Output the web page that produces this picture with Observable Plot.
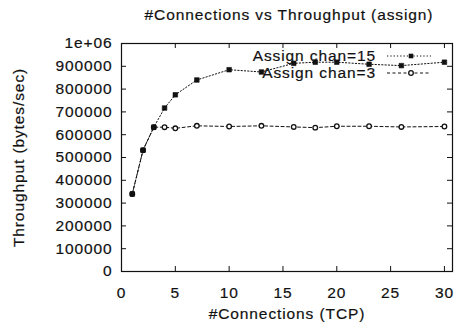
<!DOCTYPE html>
<html><head><meta charset="utf-8">
<script src="https://cdn.jsdelivr.net/npm/d3@7"></script>
<script src="https://cdn.jsdelivr.net/npm/@observablehq/plot@0.6"></script>
<style>
html,body{margin:0;padding:0;background:#fff;overflow:hidden;}
#wrap{position:relative;width:456px;height:330px;font-family:"Liberation Sans",Arial,Helvetica,sans-serif;color:#111;}
#title{position:absolute;left:289px;top:6px;transform:translateX(-50%);white-space:nowrap;font-size:15.5px;letter-spacing:0.9px;-webkit-text-stroke:0.2px #111;}
#chart{position:absolute;left:0;top:0;}
#legend{position:absolute;left:0;top:0;}
svg text{letter-spacing:0.9px;stroke:#111;stroke-width:0.2px;}
</style></head>
<body>
<div id="wrap"><div id="chart"></div><div id="title"></div><svg id="legend" width="456" height="330"></svg></div>
<script>
const titleText = "#Connections vs Throughput (assign)";
const xLabel = "#Connections (TCP)";
const yLabel = "Throughput (bytes/sec)";
const seriesNames = ["Assign chan=15", "Assign chan=3"];
const connections = [1, 2, 3, 4, 5, 7, 10, 13, 16, 18, 20, 23, 26, 30];
const chan15 = [340000, 532000, 633000, 717000, 775000, 840000, 885000, 875000, 913000, 918000, 918000, 909000, 903000, 918000];
const chan3 = [340000, 532000, 633000, 633000, 628000, 639000, 636000, 639000, 634000, 631000, 637000, 637000, 634000, 636000];
const xTicks = [0, 5, 10, 15, 20, 25, 30];
const yTicks = [0, 100000, 200000, 300000, 400000, 500000, 600000, 700000, 800000, 900000, 1000000];

const W = 456, H = 330, mL = 121, mR = 4, mT = 43, mB = 59, TL = 5;
const fw = W - mL - mR, fh = H - mT - mB;
const d15 = connections.map((x, i) => ({x, y: chan15[i]}));
const d3s = connections.map((x, i) => ({x, y: chan3[i]}));
const fmt = d => d === 1000000 ? "1e+06" : String(d);
const dash15 = "1.3,2", dash3 = "3,2.5";
const FS = "15.5px";

const plot = Plot.plot({
  width: W, height: H,
  marginLeft: mL, marginRight: mR, marginTop: mT, marginBottom: mB,
  style: {fontSize: FS, fontFamily: "'Liberation Sans', Arial, sans-serif", color: "#111", background: "#fff"},
  x: {domain: [0, 30.75], ticks: xTicks, tickFormat: d => String(d)},
  y: {domain: [0, 1000000], ticks: yTicks, tickFormat: fmt},
  marks: [
    Plot.axisX(xTicks, {anchor: "bottom", tickSize: 0, tickPadding: 15, label: null, tickFormat: d => String(d)}),
    Plot.axisY(yTicks, {anchor: "left", tickSize: 0, tickPadding: 9, label: null, tickFormat: fmt}),
    Plot.tickX(xTicks, {x: d => d, insetTop: fh - TL, stroke: "#111"}),
    Plot.tickX(xTicks, {x: d => d, insetBottom: fh - TL, stroke: "#111"}),
    Plot.tickY(yTicks, {y: d => d, insetRight: fw - TL, stroke: "#111"}),
    Plot.tickY(yTicks, {y: d => d, insetLeft: fw - TL, stroke: "#111"}),
    Plot.frame({stroke: "#111", strokeWidth: 1.2}),
    Plot.line(d3s, {x: "x", y: "y", stroke: "#111", strokeWidth: 1, strokeDasharray: dash3}),
    Plot.dot(d3s, {x: "x", y: "y", r: 2.3, stroke: "#111", strokeWidth: 1.3, fill: "#fff"}),
    Plot.line(d15, {x: "x", y: "y", stroke: "#111", strokeWidth: 1, strokeDasharray: dash15}),
    Plot.dot(d15, {x: "x", y: "y", r: 2.6, symbol: "square", fill: "#111", stroke: "#111", strokeWidth: 0.6}),
    Plot.text([yLabel], {text: d => d, frameAnchor: "left", textAnchor: "middle", dx: -102, rotate: -90, fill: "#111"}),
    Plot.text([xLabel], {text: d => d, frameAnchor: "bottom", textAnchor: "middle", dy: 47, fill: "#111"})
  ]
});
document.getElementById("chart").appendChild(plot);
document.getElementById("title").textContent = titleText;

// legend (gnuplot-style, top right, over the data)
const lg = d3.select("#legend").style("font-family", "'Liberation Sans', Arial, sans-serif");
const rows = [
  {name: seriesNames[0], dash: dash15, sym: "square"},
  {name: seriesNames[1], dash: dash3, sym: "circle"}
];
rows.forEach((r, i) => {
  const cy = 56 + i * 17;
  lg.append("text").attr("x", 376).attr("y", cy).attr("dy", "0.35em").attr("text-anchor", "end")
    .attr("font-size", FS).attr("fill", "#111").text(r.name);
  lg.append("line").attr("x1", 387).attr("x2", 431).attr("y1", cy).attr("y2", cy)
    .attr("stroke", "#111").attr("stroke-dasharray", r.dash);
  if (r.sym === "square") lg.append("rect").attr("x", 411 - 2.3).attr("y", cy - 2.3).attr("width", 4.6).attr("height", 4.6).attr("fill", "#111");
  else lg.append("circle").attr("cx", 411).attr("cy", cy).attr("r", 2.3).attr("fill", "#fff").attr("stroke", "#111").attr("stroke-width", 1.3);
});
</script>
</body></html>
